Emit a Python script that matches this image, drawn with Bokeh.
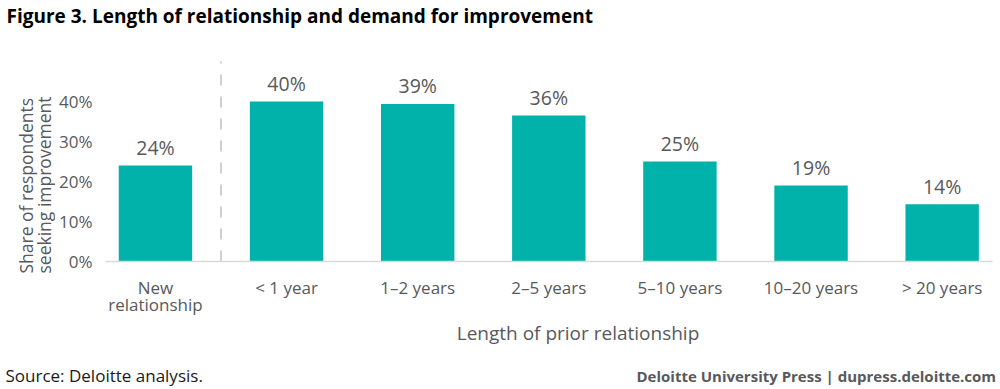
import math
from bokeh.plotting import figure
from bokeh.models import Range1d, FixedTicker
from bokeh.layouts import column, row
from bokeh.core.properties import value
from bokeh.embed import file_html
from bokeh.resources import INLINE

# ---------------- data ----------------
categories = ["New\nrelationship", "< 1 year", "1–2 years", "2–5 years",
              "5–10 years", "10–20 years", "> 20 years"]
shares = [24, 40, 39.4, 36.5, 25, 19, 14.3]
share_labels = ["24%", "40%", "39%", "36%", "25%", "19%", "14%"]
y_ticks = [0, 10, 20, 30, 40]
y_tick_labels = ["0%", "10%", "20%", "30%", "40%"]
divider_top = 50

title_text = "Figure 3. Length of relationship and demand for improvement"
x_title = "Length of prior relationship"
y_title_lines = ["Share  of respondents", "seeking improvement"]
source_text = "Source: Deloitte analysis."
credit_text = "Deloitte University Press  |  dupress.deloitte.com"

# ---------------- style ----------------
FONT = "Open Sans"
GRAY = "#58595B"
TEAL = "#00B2A9"

TOTAL_W = 1000
HEAD_H = 30
MAIN_H = 288
FOOT_H = 389 - HEAD_H - MAIN_H
YT_W = 55
MAIN_W = TOTAL_W - YT_W
L, R, T, B = 50, 8, 20, 57

xs = list(range(len(categories)))
x_start, x_end = -0.381, 6.384
y_start, y_end = 0, 52.75


def text_panel(w, h, fixed_frame=False):
    kw = dict(frame_width=w, frame_height=h) if fixed_frame else dict(width=w, height=h)
    f = figure(output_backend="svg", toolbar_location=None,
               x_range=Range1d(0, w), y_range=Range1d(0, h),
               x_axis_type=None, y_axis_type=None,
               min_border_left=0, min_border_right=0, min_border_top=0,
               min_border_bottom=0, **kw)
    f.outline_line_color = None
    f.background_fill_color = "white"
    f.border_fill_color = "white"
    if fixed_frame:
        try:
            f.frame_align = False
        except Exception:
            pass
    return f


# ---------------- header ----------------
head = text_panel(TOTAL_W, HEAD_H)
head.text(x=[6], y=[HEAD_H - 15], text=[title_text], text_font=value(FONT),
          text_font_size="19px", text_font_style="bold", text_color="#000000",
          text_align="left", text_baseline="alphabetic")

# ---------------- y title panel ----------------
ytp = text_panel(YT_W, MAIN_H, fixed_frame=True)
ytp.text(x=[25, 43], y=[45, 45], text=y_title_lines,
         text_font=value(FONT), text_font_size="17.5px", text_color=GRAY,
         text_align="left", text_baseline="middle", angle=math.pi / 2)

# ---------------- main chart ----------------
p = figure(width=MAIN_W, height=MAIN_H, output_backend="svg",
           toolbar_location=None,
           x_range=Range1d(x_start, x_end), y_range=Range1d(y_start, y_end),
           min_border_left=L, min_border_right=R, min_border_top=T,
           min_border_bottom=B)
p.outline_line_color = None
p.background_fill_color = "white"
p.border_fill_color = "white"
p.xgrid.visible = False
p.ygrid.visible = False

p.vbar(x=xs, top=shares, bottom=0, width=0.56, fill_color=TEAL, line_color=None)

p.text(x=xs, y=shares, text=share_labels, text_font=value(FONT),
       text_font_size="19.5px", text_color=GRAY, text_align="center",
       text_baseline="alphabetic", y_offset=-18)

mid = (xs[0] + xs[1]) / 2
p.segment(x0=[mid], y0=[0], x1=[mid], y1=[divider_top], line_color="#A0A0A0",
          line_width=1, line_dash="11 11")

p.xaxis.ticker = FixedTicker(ticks=xs)
p.xaxis.major_label_overrides = {i: c for i, c in zip(xs, categories)}
p.xaxis.axis_line_color = "#D9D9D9"
p.xaxis.axis_line_width = 1.5
p.xaxis.major_tick_line_color = None
p.xaxis.minor_tick_line_color = None
p.xaxis.major_tick_out = 0
p.xaxis.major_tick_in = 0
p.xaxis.major_label_standoff = 14
p.xaxis.major_label_text_font = FONT
p.xaxis.major_label_text_font_size = "17px"
p.xaxis.major_label_text_color = GRAY
p.xaxis.major_label_text_line_height = 0.75

p.yaxis.ticker = FixedTicker(ticks=y_ticks)
p.yaxis.major_label_overrides = {t: s for t, s in zip(y_ticks, y_tick_labels)}
p.yaxis.axis_line_color = None
p.yaxis.major_tick_line_color = None
p.yaxis.minor_tick_line_color = None
p.yaxis.major_tick_out = 0
p.yaxis.major_tick_in = 0
p.yaxis.major_label_standoff = 13
p.yaxis.major_label_text_font = FONT
p.yaxis.major_label_text_font_size = "17px"
p.yaxis.major_label_text_color = GRAY

# ---------------- footer ----------------
foot = text_panel(TOTAL_W, FOOT_H)
foot.text(x=[577.5], y=[389 - 332], text=[x_title], text_font=value(FONT),
          text_font_size="19px", text_color=GRAY, text_align="center",
          text_baseline="alphabetic")
foot.text(x=[5], y=[389 - 374.7], text=[source_text], text_font=value(FONT),
          text_font_size="17px", text_color="#1A1A1A", text_align="left",
          text_baseline="alphabetic")
foot.text(x=[636], y=[389 - 375], text=[credit_text], text_font=value(FONT),
          text_font_size="15px", text_font_style="bold", text_color=GRAY,
          text_align="left", text_baseline="alphabetic")

layout = column(head, row(ytp, p), foot)
open("out.html", "w").write(file_html(layout, INLINE))
